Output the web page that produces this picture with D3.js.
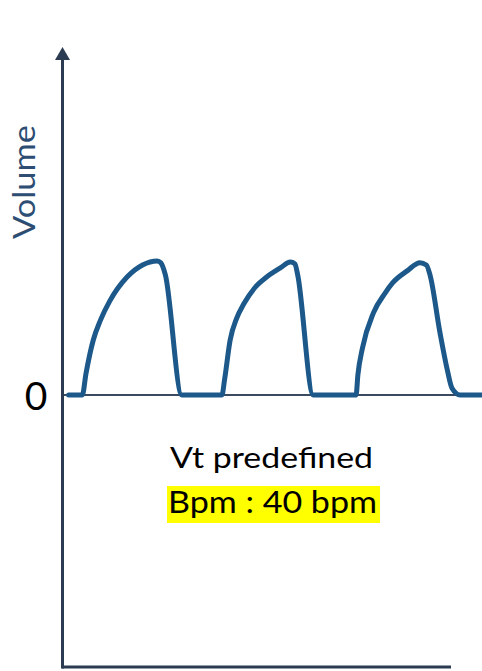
<!DOCTYPE html>
<html><head><meta charset="utf-8">
<script src="https://cdn.jsdelivr.net/npm/d3@7"></script>
<style>body{margin:0;background:#fff}svg{display:block}</style>
</head><body>
<script>
// time (s) and volume (mL)
const time = [0.04,0.19,0.23,0.31,0.39,0.49,0.68,0.85,1.01,1.05,1.10,1.28,1.72,
  1.75,1.81,1.88,1.96,2.08,2.21,2.36,2.47,2.52,2.55,2.72,3.19,
  3.21,3.26,3.38,3.51,3.59,3.75,3.89,3.96,4.00,4.11,4.19,4.24,4.33,4.57];
const volume = [0,0,80,205,280,350,440,485,500,493,448,0,0,
  60,205,285,340,400,440,474,496,489,448,0,0,
  75,175,306,381,418,463,493,485,448,231,93,26,0,0];
const yLabel = "Volume";
const zeroLabel = "0";
const noteLines = ["Vt predefined", "Bpm : 40 bpm"];

const W = 482, H = 671;
const FONT = "Lato, 'Open Sans', sans-serif";
const svg = d3.select("body").append("svg").attr("width", W).attr("height", H);
const x = d3.scaleLinear().domain([0, 4.57]).range([65, 482]);
const y = d3.scaleLinear().domain([-1015, 1287]).range([667, 50]);
const axisColor = "#2b3b52";

// zero line
svg.append("line").attr("x1", 63).attr("x2", 482).attr("y1", y(0)).attr("y2", y(0))
  .attr("stroke", "#3b4a5e").attr("stroke-width", 2);
// bottom axis
svg.append("line").attr("x1", 62).attr("x2", 451).attr("y1", 667).attr("y2", 667)
  .attr("stroke", axisColor).attr("stroke-width", 3);
// vertical axis
svg.append("line").attr("x1", 62.5).attr("x2", 62.5).attr("y1", 55).attr("y2", 668.5)
  .attr("stroke", axisColor).attr("stroke-width", 3);
svg.append("path").attr("d", "M62.5,47 L70,60 L55,60 Z").attr("fill", axisColor);

// waveform
const pts = time.map((t, i) => [t, volume[i]]);
svg.append("path").datum(pts)
  .attr("d", d3.line().x(d => x(d[0])).y(d => y(d[1])).curve(d3.curveMonotoneX))
  .attr("fill", "none").attr("stroke", "#1c5889").attr("stroke-width", 5)
  .attr("stroke-linejoin", "round").attr("stroke-linecap", "round");

// labels
svg.append("text").attr("transform", "translate(35,182) rotate(-90)")
  .attr("text-anchor", "middle").attr("font-family", FONT)
  .attr("font-size", 31).attr("fill", "#2d4d73")
  .attr("textLength", 114).attr("lengthAdjust", "spacingAndGlyphs").text(yLabel);
svg.append("text").attr("x", 36).attr("y", 410).attr("text-anchor", "middle")
  .attr("font-family", FONT).attr("font-size", 39)
  .attr("fill", "#000").text(zeroLabel);

svg.append("rect").attr("x", 167).attr("y", 486).attr("width", 213).attr("height", 37).attr("fill", "#ffff00");
svg.append("text").attr("x", 271.5).attr("y", 468).attr("text-anchor", "middle")
  .attr("font-family", FONT).attr("font-size", 29).attr("fill", "#000")
  .attr("textLength", 203).attr("lengthAdjust", "spacingAndGlyphs").text(noteLines[0]);
svg.append("text").attr("x", 272.5).attr("y", 513).attr("text-anchor", "middle")
  .attr("font-family", FONT).attr("font-size", 30).attr("fill", "#000")
  .attr("textLength", 209).attr("lengthAdjust", "spacingAndGlyphs").text(noteLines[1]);
</script>
</body></html>
